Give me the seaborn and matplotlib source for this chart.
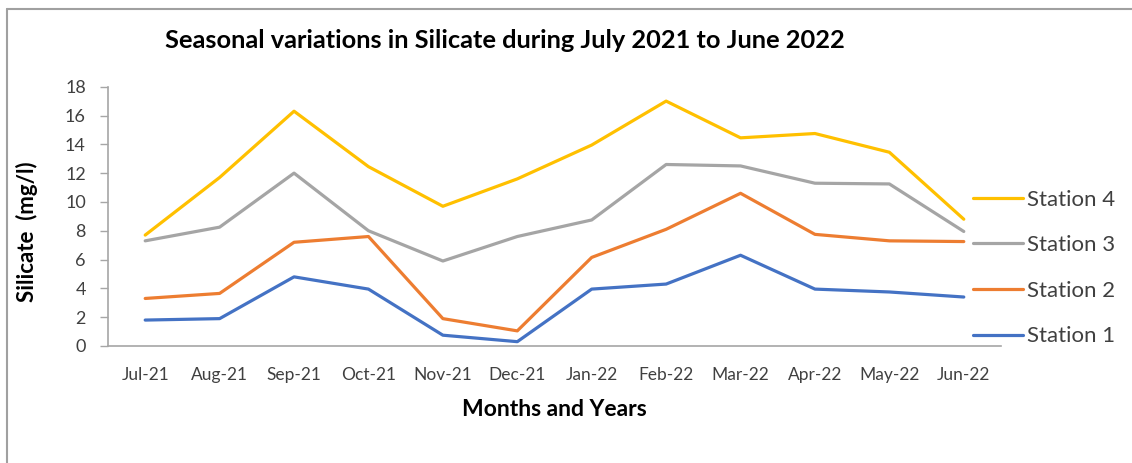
import matplotlib
matplotlib.use("Agg")
import matplotlib.pyplot as plt
from matplotlib.lines import Line2D
import seaborn as sns
import pandas as pd

months = ["Jul-21", "Aug-21", "Sep-21", "Oct-21", "Nov-21", "Dec-21",
          "Jan-22", "Feb-22", "Mar-22", "Apr-22", "May-22", "Jun-22"]
station1 = [1.8, 1.9, 4.8, 3.95, 0.75, 0.3, 3.95, 4.3, 6.3, 3.95, 3.75, 3.4]
station2 = [3.3, 3.65, 7.2, 7.6, 1.9, 1.05, 6.15, 8.1, 10.6, 7.75, 7.3, 7.25]
station3 = [7.3, 8.25, 12.0, 8.0, 5.9, 7.6, 8.75, 12.6, 12.5, 11.3, 11.25, 7.95]
station4 = [7.7, 11.7, 16.3, 12.45, 9.7, 11.6, 13.95, 17.0, 14.45, 14.75, 13.45, 8.8]
series_names = ["Station 4", "Station 3", "Station 2", "Station 1"]
colors = ["#FFC000", "#A5A5A5", "#ED7D31", "#4472C4"]

sns.set_theme(style="white")
plt.rcParams["font.family"] = ["Lato", "DejaVu Sans"]

rows = []
for name, vals in zip(series_names, [station4, station3, station2, station1]):
    for m, v in zip(months, vals):
        rows.append({"Month": m, "Silicate": v, "Station": name})
df = pd.DataFrame(rows)

W, H = 1132, 463
fig = plt.figure(figsize=(W / 100, H / 100), dpi=100)
ax = fig.add_axes([108 / W, 1 - 346 / H, (1001 - 108) / W, (346 - 86.7) / H])

sns.lineplot(data=df, x="Month", y="Silicate", hue="Station",
             palette=dict(zip(series_names, colors)), linewidth=2.3,
             sort=False, ax=ax, legend=False)

ax.set_xlim(-0.5, 11.5)
ax.set_ylim(0, 18)
ax.set_yticks(range(0, 19, 2))
ax.set_xticks(range(len(months)))
ax.set_xticklabels(months)

for s in ["top", "right"]:
    ax.spines[s].set_visible(False)
for s in ["left", "bottom"]:
    ax.spines[s].set_color("#A6A6A6")
    ax.spines[s].set_linewidth(1.2)

ax.tick_params(axis="y", which="both", left=True, length=6, width=1,
               color="#A6A6A6", pad=10, labelsize=13, labelcolor="#404040")
ax.tick_params(axis="x", which="both", bottom=False, length=0, pad=15,
               labelsize=12.5, labelcolor="#404040")

ax.set_xlabel("Months and Years", fontsize=16.5, fontweight="bold", color="black", labelpad=12)
ax.set_ylabel("Silicate  (mg/l)", fontsize=16, fontweight="bold", color="black")
ax.yaxis.set_label_coords(-(108 - 38) / (1001 - 108), (346 - 232) / (346 - 86.7))

fig.text(505 / W, 1 - 40 / H, "Seasonal variations in Silicate during July 2021 to June 2022",
         ha="center", va="center", fontsize=18.3, fontweight="bold", color="black")

handles = [Line2D([], [], color=c, lw=2.3) for c in colors]
fig.legend(handles, series_names, loc="center left",
           bbox_to_anchor=(973 / W, 1 - 268 / H), bbox_transform=fig.transFigure,
           frameon=False, fontsize=16, handlelength=2.25, handletextpad=0.2,
           labelspacing=1.15, borderpad=0, borderaxespad=0, labelcolor="#404040")

# outer frame lines
fig.add_artist(Line2D([7 / W, 1], [1 - 9 / H, 1 - 9 / H], transform=fig.transFigure,
                      color="#A0A0A0", lw=1.5))
fig.add_artist(Line2D([7 / W, 7 / W], [0, 1 - 9 / H], transform=fig.transFigure,
                      color="#A0A0A0", lw=1.5))

fig.savefig("out.png", dpi=100, facecolor="white")
